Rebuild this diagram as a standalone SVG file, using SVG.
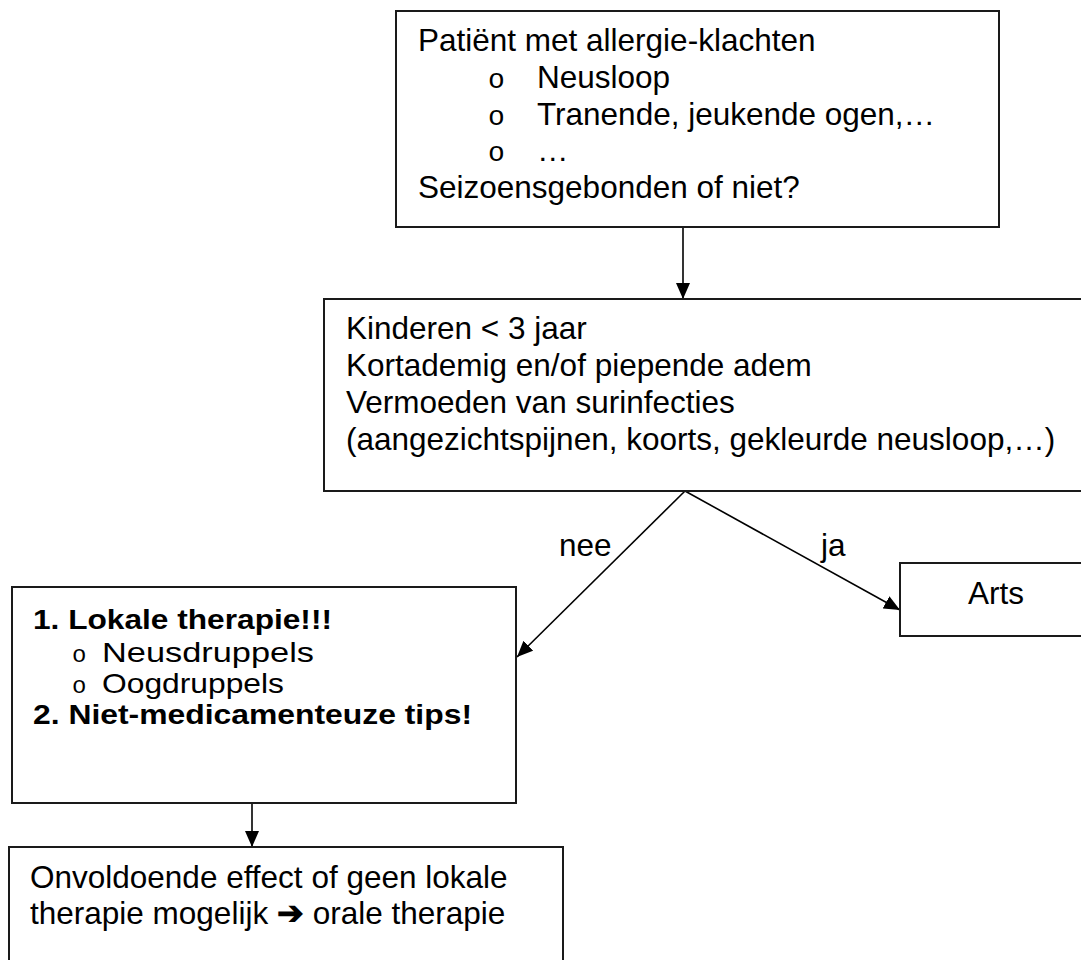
<svg xmlns="http://www.w3.org/2000/svg" width="1081" height="960" viewBox="0 0 1081 960">
<style>
.box{fill:#fff;stroke:#1a1a1a;stroke-width:2}
.t{font-family:"Liberation Sans",Arial,Helvetica,sans-serif;font-size:31.5px;fill:#000}
.s{font-size:28px}
.b{font-weight:bold}
.bul{font-family:"Liberation Mono","Courier New",monospace;font-size:28px;fill:#000}
.bul2{font-family:"Liberation Mono","Courier New",monospace;font-size:24px;fill:#000}
.edge{stroke:#000;stroke-width:1.6;fill:none;marker-end:url(#ah)}
</style>
<defs>
<marker id="ah" markerUnits="userSpaceOnUse" markerWidth="16" markerHeight="14" viewBox="0 0 16 14" refX="16" refY="7" orient="auto"><path d="M0,0 L16,7 L0,14 z" fill="#000"/></marker>
</defs>
<rect x="0" y="0" width="1081" height="960" fill="#fff"/>
<g id="connectors">
<line class="edge" x1="683" y1="227" x2="683" y2="299"/>
<line class="edge" x1="685" y1="491" x2="517" y2="657"/>
<line class="edge" x1="685" y1="491" x2="900" y2="610"/>
<line class="edge" x1="252" y1="803" x2="252" y2="847"/>
<text class="t" x="559" y="556">nee</text>
<text class="t" x="821" y="556">ja</text>
</g>
<g id="n1">
<rect class="box" x="396" y="11" width="603" height="216"/>
<text class="t" x="418" y="51">Patiënt met allergie-klachten</text>
<text class="bul" x="488" y="88">o</text><text class="t" x="537" y="88">Neusloop</text>
<text class="bul" x="488" y="125">o</text><text class="t" x="537" y="125">Tranende, jeukende ogen,…</text>
<text class="bul" x="488" y="161">o</text><text class="t" x="537" y="161">…</text>
<text class="t" x="418" y="198">Seizoensgebonden of niet?</text>
</g>
<g id="n2">
<rect class="box" x="324" y="299" width="775" height="192"/>
<text class="t" x="346" y="339">Kinderen &lt; 3 jaar</text>
<text class="t" x="346" y="376">Kortademig en/of piepende adem</text>
<text class="t" x="346" y="413">Vermoeden van surinfecties</text>
<text class="t" x="346" y="450">(aangezichtspijnen, koorts, gekleurde neusloop,…)</text>
</g>
<g id="n3">
<rect class="box" x="12" y="587" width="504" height="216"/>
<text class="t s b" x="33" y="629" textLength="299" lengthAdjust="spacingAndGlyphs">1. Lokale therapie!!!</text>
<text class="bul2" x="72" y="662">o</text><text class="t s" x="102" y="662" textLength="212" lengthAdjust="spacingAndGlyphs">Neusdruppels</text>
<text class="bul2" x="72" y="693">o</text><text class="t s" x="102" y="693" textLength="182" lengthAdjust="spacingAndGlyphs">Oogdruppels</text>
<text class="t s b" x="33" y="724" textLength="439" lengthAdjust="spacingAndGlyphs">2. Niet-medicamenteuze tips!</text>
</g>
<g id="n4">
<rect class="box" x="900" y="563" width="200" height="73"/>
<text class="t" x="968" y="604">Arts</text>
</g>
<g id="n5">
<rect class="box" x="9" y="847" width="554" height="130"/>
<text class="t" x="30" y="888">Onvoldoende effect of geen lokale</text>
<text class="t" x="30" y="924">therapie mogelijk <tspan font-weight="bold">➔</tspan> orale therapie</text>
</g>
</svg>
